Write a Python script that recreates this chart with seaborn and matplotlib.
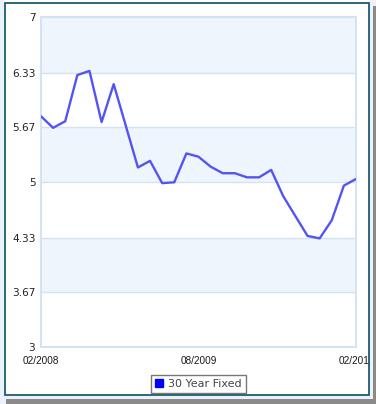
import matplotlib
matplotlib.use("Agg")
import matplotlib.pyplot as plt
import seaborn as sns
import pandas as pd
from matplotlib.patches import Rectangle
from matplotlib.lines import Line2D

# ---- data ----
period_index = [0, 1, 2, 3, 4, 5, 6, 8, 9, 10, 11, 12, 13, 14, 15, 16, 17, 18, 19, 20,
                22, 23, 24, 25, 26]
rate_30yr = [5.80, 5.66, 5.74, 6.30, 6.35, 5.73, 6.19, 5.18, 5.26, 4.99, 5.00, 5.35,
             5.31, 5.19, 5.11, 5.11, 5.06, 5.06, 5.15, 4.83, 4.35, 4.32, 4.54, 4.96, 5.04]
series_name = "30 Year Fixed"
y_ticks = [3, 3.67, 4.33, 5, 5.67, 6.33, 7]
y_tick_labels = ["3", "3.67", "4.33", "5", "5.67", "6.33", "7"]
x_tick_pos = [0, 13, 26]
x_tick_labels = ["02/2008", "08/2009", "02/2011"]

df = pd.DataFrame({"idx": period_index, "rate": rate_30yr, "series": series_name})

sns.set_style("white")
plt.rcParams['font.family'] = ['DejaVu Sans']

W, H = 376, 404
fig = plt.figure(figsize=(W / 100, H / 100), dpi=100, facecolor="white")
ax = fig.add_axes([41 / W, 1 - 347.3 / H, 315 / W, 330 / H])

# alternating bands
band_col = "#EEF5FD"
for i in range(len(y_ticks) - 1):
    if (len(y_ticks) - 2 - i) % 2 == 0:
        ax.axhspan(y_ticks[i], y_ticks[i + 1], color=band_col, lw=0, zorder=0)
for t in y_ticks:
    ax.axhline(t, color="#D3E2F5", lw=1.0, zorder=1)

sns.lineplot(data=df, x="idx", y="rate", ax=ax, color="#5454F4", lw=1.7,
             legend=False, zorder=3)

ax.set_xlim(0, 26)
ax.set_ylim(3, 7)
ax.set_yticks(y_ticks)
ax.set_yticklabels(y_tick_labels)
ax.set_xticks(x_tick_pos)
ax.set_xticklabels(x_tick_labels, fontfamily="Liberation Sans", fontsize=7.2,
                   color="#1a1a1a")
ax.tick_params(axis="y", labelsize=7.6, labelcolor="#222222", length=0, pad=4)
ax.tick_params(axis="x", length=0, pad=6)
ax.set_xlabel("")
ax.set_ylabel("")
for s in ax.spines.values():
    s.set_color("#D3E2F5")
    s.set_linewidth(1.4)

# legend
handle = Line2D([], [], marker="s", color="#0000FF", linestyle="none",
                markersize=5.5)
leg = fig.legend([handle], [series_name], loc="center",
                 bbox_to_anchor=(198.5 / W, 1 - 384 / H), frameon=True,
                 fancybox=False, fontsize=8, handlelength=0.7,
                 handletextpad=0.5, borderpad=0.35, labelcolor="#444444")
leg.get_frame().set_edgecolor("#555555")
leg.get_frame().set_linewidth(1.0)

# outer frame, margin and shadow
fig.patches.append(Rectangle((369.5 / W, 0), (W - 369.5) / W, 1, transform=fig.transFigure,
                             facecolor="#EAF1F9", edgecolor="none", zorder=10))
fig.patches.append(Rectangle((0, 0), 1, (H - 395.5) / H, transform=fig.transFigure,
                             facecolor="#EAF1F9", edgecolor="none", zorder=10))
fig.patches.append(Rectangle((0, 0), 4 / W, 1, transform=fig.transFigure,
                             facecolor="#EAF1F9", edgecolor="none", zorder=10))
fig.patches.append(Rectangle((373 / W, 0), 3 / W, 1 - 6 / H, transform=fig.transFigure,
                             facecolor="#8a8a8a", edgecolor="none", zorder=11))
fig.patches.append(Rectangle((6 / W, 0), 1, 5 / H, transform=fig.transFigure,
                             facecolor="#8a8a8a", edgecolor="none", zorder=11))
fig.patches.append(Rectangle((4.5 / W, 1 - 395 / H), 364.5 / W, 392 / H,
                             transform=fig.transFigure, facecolor="none",
                             edgecolor="#1E5A6E", lw=1.3, zorder=12))

fig.savefig("out.png", dpi=100, facecolor=fig.get_facecolor())
